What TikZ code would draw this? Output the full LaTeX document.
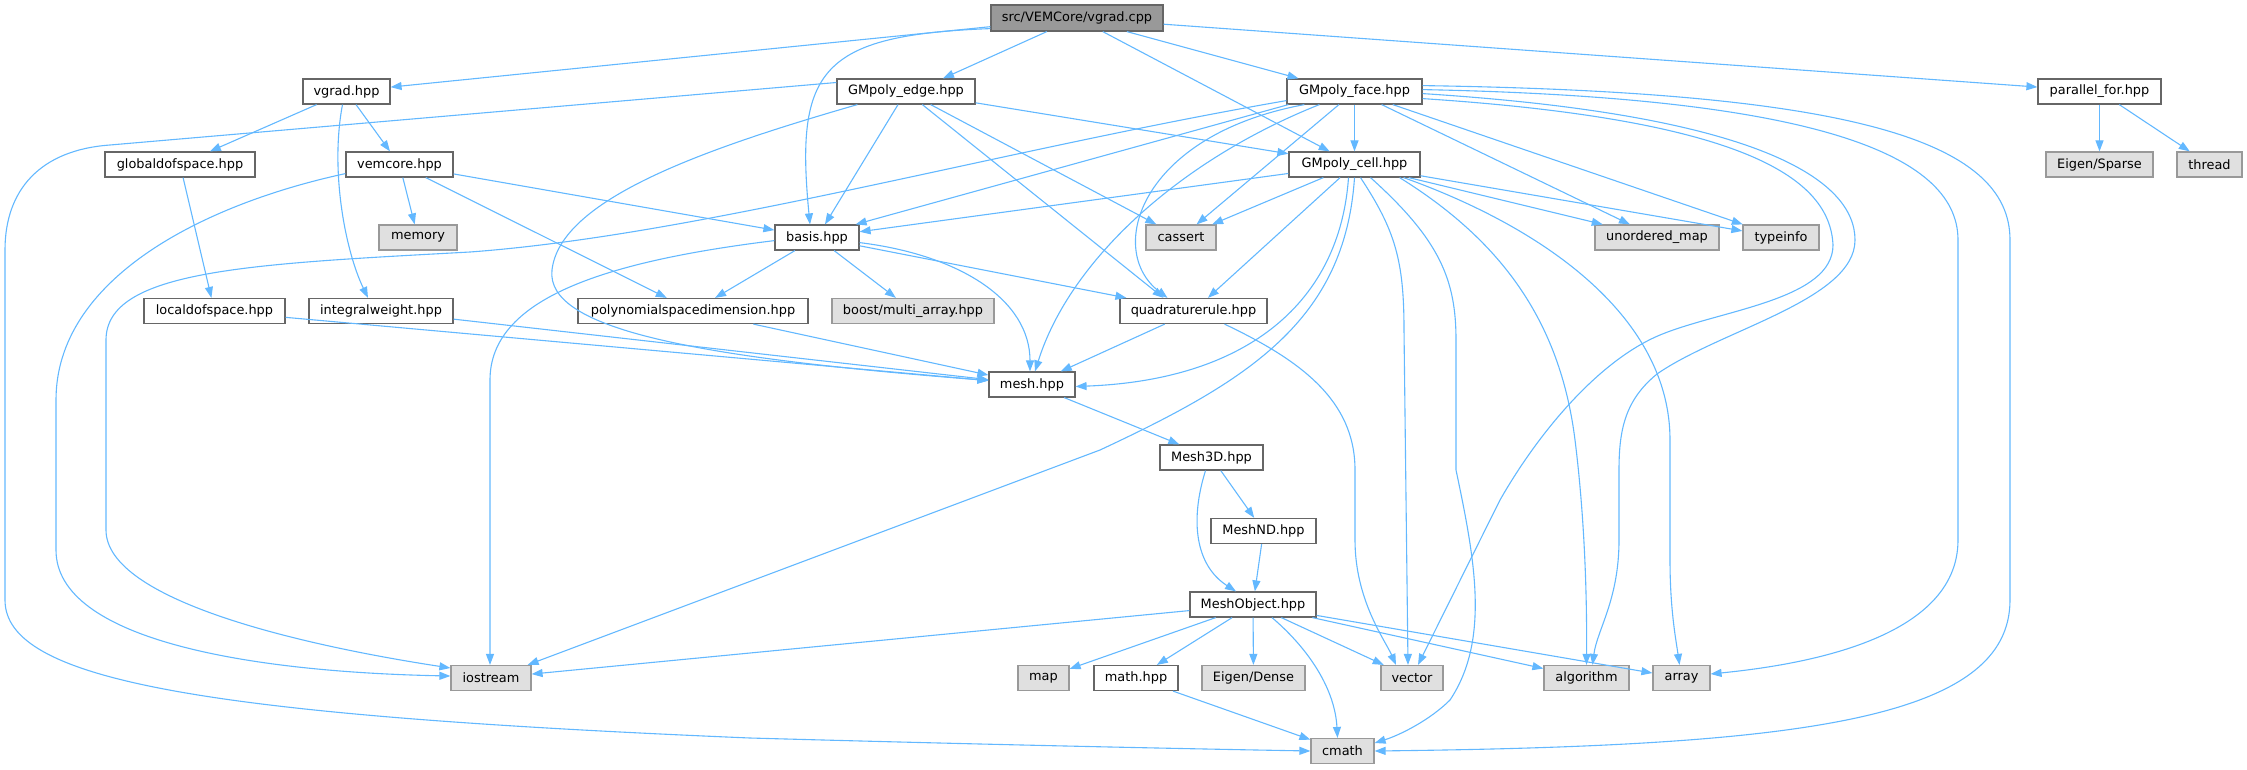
\documentclass[tikz,border=0pt]{standalone}
\usepackage{fontspec}
\setmainfont{DejaVu Sans}
\usetikzlibrary{arrows.meta}
\definecolor{edgec}{HTML}{63B8FF}
\definecolor{bd}{HTML}{666666}
\definecolor{gbd}{HTML}{999999}
\definecolor{gfill}{HTML}{E0E0E0}
\definecolor{rootfill}{HTML}{999999}
\begin{document}
\begin{tikzpicture}[x=1pt,y=-1pt,
  box/.style={draw=bd, line width=1.2pt, fill=white, minimum height=25pt, inner sep=0pt, font=\fontsize{12.9}{15}\selectfont, text=black},
  sys/.style={box, draw=gbd, fill=gfill},
  rootbox/.style={box, fill=rootfill, minimum height=26pt},
  e/.style={draw=edgec, line width=1.1pt, -{Triangle[length=11pt,width=8pt,fill=edgec]}},
]
\useasboundingbox (0,0) rectangle (2247,769);
% nodes
\node[rootbox, minimum width=172pt] (root) at (1077,18) {src/VEMCore/vgrad.cpp};
\node[box, minimum width=87pt] (vgradh) at (346.5,91.5) {vgrad.hpp};
\node[box, minimum width=138pt] (edge) at (906,91.5) {GMpoly\_edge.hpp};
\node[box, minimum width=135pt] (face) at (1354.5,91.5) {GMpoly\_face.hpp};
\node[box, minimum width=123pt] (parfor) at (2099.5,91.5) {parallel\_for.hpp};
\node[box, minimum width=150pt] (gdof) at (180,164.5) {globaldofspace.hpp};
\node[box, minimum width=107pt] (vemcore) at (399.5,164.5) {vemcore.hpp};
\node[box, minimum width=131pt] (cell) at (1354.5,164.5) {GMpoly\_cell.hpp};
\node[sys, minimum width=107pt] (sparse) at (2099.5,164.5) {Eigen/Sparse};
\node[sys, minimum width=65pt] (thread) at (2209.5,164.5) {thread};
\node[sys, minimum width=78pt] (memory) at (418,237.5) {memory};
\node[box, minimum width=84pt] (basis) at (817,237.5) {basis.hpp};
\node[sys, minimum width=70pt] (cassert) at (1181,237.5) {cassert};
\node[sys, minimum width=124pt] (umap) at (1657,237.5) {unordered\_map};
\node[sys, minimum width=76pt] (typeinfo) at (1781,237.5) {typeinfo};
\node[box, minimum width=141pt] (ldof) at (214.5,311) {localdofspace.hpp};
\node[box, minimum width=144pt] (intw) at (381,311) {integralweight.hpp};
\node[box, minimum width=230pt] (psd) at (693,311) {polynomialspacedimension.hpp};
\node[sys, minimum width=162pt] (boost) at (913,311) {boost/multi\_array.hpp};
\node[box, minimum width=147pt] (quad) at (1193.5,311) {quadraturerule.hpp};
\node[box, minimum width=86pt] (mesh) at (1032,384.5) {mesh.hpp};
\node[box, minimum width=103pt] (mesh3d) at (1211.5,457.5) {Mesh3D.hpp};
\node[box, minimum width=105pt] (meshnd) at (1263.5,531) {MeshND.hpp};
\node[box, minimum width=126pt] (meshobj) at (1253,604.5) {MeshObject.hpp};
\node[sys, minimum width=80pt] (iostream) at (491,678) {iostream};
\node[sys, minimum width=51pt] (map) at (1043.5,678) {map};
\node[box, minimum width=84pt] (math) at (1136,678) {math.hpp};
\node[sys, minimum width=103pt] (dense) at (1253.5,678) {Eigen/Dense};
\node[sys, minimum width=62pt] (vector) at (1412,678) {vector};
\node[sys, minimum width=85pt] (algorithm) at (1586.5,678) {algorithm};
\node[sys, minimum width=57pt] (array) at (1681.5,678) {array};
\node[sys, minimum width=63pt] (cmath) at (1342.5,751) {cmath};
% straight edges
\draw[e] (root) -- (vgradh);
\draw[e] (root) -- ([xshift=37pt]edge.north);
\draw[e] (root) -- ([xshift=-56pt]face.north);
\draw[e] (root) -- (cell);
\draw[e] (root) -- (parfor);
\draw[e] (vgradh) -- (gdof);
\draw[e] (vgradh) -- (vemcore);
\draw[e] (gdof) -- (ldof);
\draw[e] (vemcore) -- (memory);
\draw[e] (vemcore) -- (basis);
\draw[e] (vemcore) -- (psd);
\draw[e] (parfor) -- (sparse);
\draw[e] (parfor) -- (thread);
\draw[e] (edge) -- (basis);
\draw[e] (edge) -- (cassert);
\draw[e] (edge) -- (cell);
\draw[e] (edge) -- ([xshift=-30pt]quad.north);
\draw[e] (face) -- (cell);
\draw[e] (face) -- (cassert);
\draw[e] (face) -- (umap);
\draw[e] (face) -- (typeinfo);
\draw[e] ([xshift=2pt]face.south west) -- ([xshift=-4pt]basis.north east);
\draw[e] (cell) -- (basis);
\draw[e] (cell) -- (cassert);
\draw[e] (cell) -- (quad);
\draw[e] (cell) -- (umap);
\draw[e] (cell) -- (typeinfo);
\draw[e] (basis) -- (psd);
\draw[e] (basis) -- (boost);
\draw[e] (basis) -- (quad);
\draw[e] (ldof) -- (mesh);
\draw[e] (intw) -- (mesh);
\draw[e] (psd) -- (mesh);
\draw[e] (quad) -- (mesh);
\draw[e] (mesh) -- (mesh3d);
\draw[e] (mesh3d) -- (meshnd);
\draw[e] (meshnd) -- (meshobj);
\draw[e] (meshobj) -- (iostream);
\draw[e] (meshobj) -- (map);
\draw[e] (meshobj) -- (math);
\draw[e] (meshobj) -- (dense);
\draw[e] (meshobj) -- (vector);
\draw[e] (meshobj) -- (algorithm);
\draw[e] (meshobj) -- (array);
\draw[e] (math) -- (cmath);
% curved edges
\draw[e] ([yshift=3pt]root.south west) .. controls (820,35) and (795,70) .. ([xshift=-7pt]basis.north);
\draw[e] ([xshift=-4pt]vgradh.south) .. controls (330,170) and (345,250) .. ([xshift=-13pt]intw.north);
\draw[e] ([yshift=4pt]vemcore.south west) .. controls (200,205) and (56,280) .. (56,400) -- (56,550) .. controls (56,640) and (250,672) .. ([yshift=2pt]iostream.west);
\draw[e] ([xshift=21pt]edge.south west) .. controls (700,150) and (560,200) .. (552,270) .. controls (545,330) and (700,358) .. ([yshift=4pt]mesh.west);
\draw[e] ([yshift=9pt]edge.west) -- (110,145) .. controls (40,150) and (5,190) .. (5,250) -- (5,600) .. controls (5,680) and (200,715) .. (750,738) .. controls (1000,745) and (1200,749) .. (cmath.west);
\draw[e] ([yshift=4pt]face.south west) .. controls (1000,150) and (700,235) .. (470,252) .. controls (250,264) and (106,270) .. (106,340) -- (106,530) .. controls (106,600) and (300,645) .. ([yshift=10pt]iostream.west);
\draw[e] ([xshift=18pt]face.south west) .. controls (1140,135) and (1105,250) .. ([xshift=-26pt]quad.north);
\draw[e] ([xshift=33pt]face.south west) .. controls (1180,160) and (1070,260) .. ([xshift=3pt]mesh.north);
\draw[e] ([yshift=6pt]face.south east) .. controls (1750,120) and (1830,180) .. (1833,245) .. controls (1833,300) and (1720,310) .. (1660,335) .. controls (1600,360) and (1540,430) .. (1500,500) -- ([xshift=6pt]vector.north);
\draw[e] ([yshift=11pt]face.south east) .. controls (1760,115) and (1855,180) .. (1855,240) .. controls (1855,300) and (1720,330) .. (1657,374) .. controls (1625,400) and (1619,430) .. (1619,470) -- (1619,540) .. controls (1619,600) and (1597,630) .. ([xshift=6pt]algorithm.north);
\draw[e] ([yshift=15pt]face.south east) .. controls (1800,97) and (1958,150) .. (1958,240) -- (1958,540) .. controls (1958,640) and (1800,665) .. ([yshift=4pt]array.east);
\draw[e] ([yshift=19pt]face.south east) .. controls (1850,92) and (2010,140) .. (2010,240) -- (2010,600) .. controls (2010,720) and (1800,746) .. (cmath.east);
\draw[e] ([xshift=-6pt]cell.south) .. controls (1340,300) and (1250,380) .. ([yshift=-2pt]mesh.east);
\draw[e] (cell.south) .. controls (1345,320) and (1250,380) .. (1100,450) -- ([xshift=-4pt]iostream.north east);
\draw[e] ([xshift=6pt]cell.south) .. controls (1395,230) and (1404,260) .. (1404,330) -- ([xshift=-4pt]vector.north);
\draw[e] ([xshift=16pt]cell.south) .. controls (1440,240) and (1456,280) .. (1456,340) -- (1456,470) .. controls (1475,560) and (1490,640) .. (1450,700) .. controls (1430,720) and (1400,735) .. ([yshift=8pt]cmath.east);
\draw[e] ([xshift=-21pt]cell.south east) .. controls (1500,240) and (1560,320) .. (1575,440) .. controls (1585,520) and (1587,600) .. (algorithm.north);
\draw[e] ([xshift=-17pt]cell.south east) .. controls (1550,230) and (1670,320) .. (1670,440) -- (1670,560) .. controls (1670,610) and (1676,640) .. ([xshift=-2pt]array.north);
\draw[e] ([yshift=8pt]basis.south east) .. controls (960,255) and (1030,300) .. ([xshift=-2pt]mesh.north);
\draw[e] ([yshift=10pt]basis.south west) .. controls (600,262) and (490,300) .. (490,380) -- ([xshift=-1pt]iostream.north);
\draw[e] ([xshift=31pt]quad.south) .. controls (1300,360) and (1355,400) .. (1355,470) -- (1355,540) .. controls (1355,600) and (1385,640) .. ([xshift=-16pt]vector.north);
\draw[e] ([xshift=-6pt]mesh3d.south) .. controls (1190,520) and (1195,565) .. ([xshift=-17pt]meshobj.north);
\draw[e] ([xshift=19pt]meshobj.south) .. controls (1310,650) and (1335,690) .. ([xshift=-5pt]cmath.north);
\end{tikzpicture}
\end{document}
